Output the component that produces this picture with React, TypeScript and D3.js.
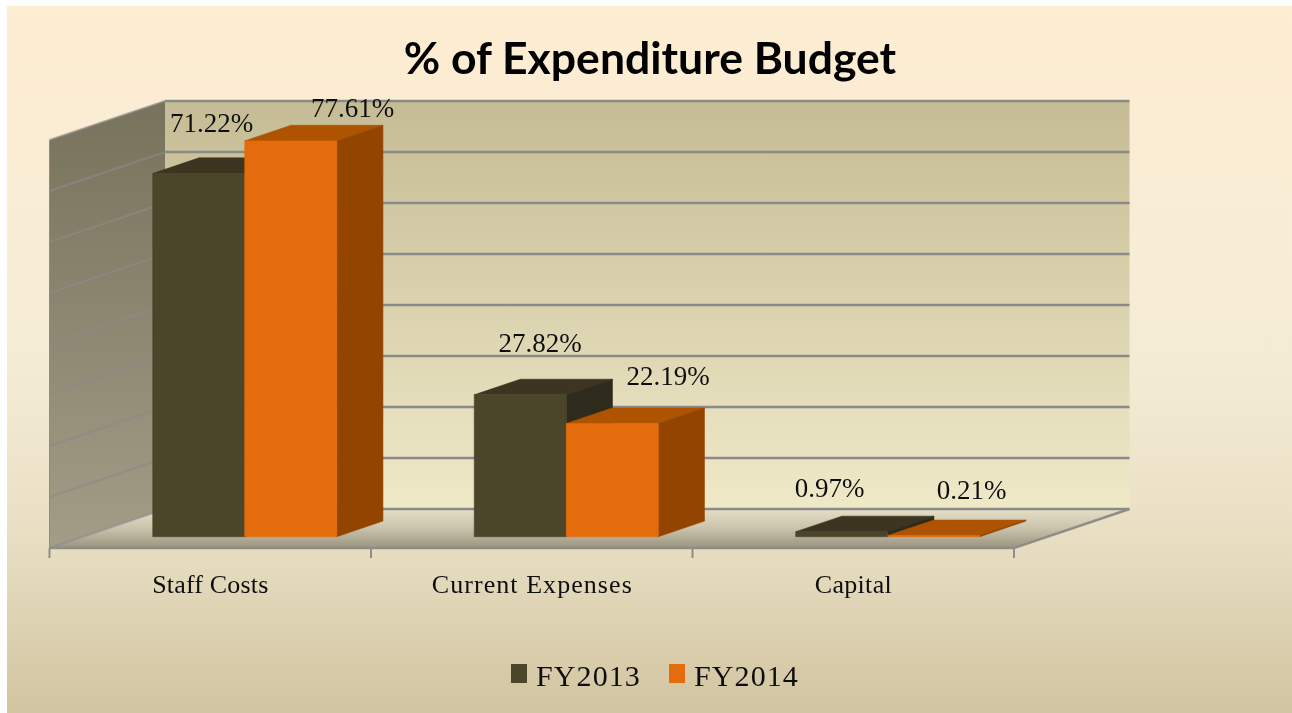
import React from "react";
import * as d3 from "d3";

const categories = ["Staff Costs", "Current Expenses", "Capital"];
const seriesNames = ["FY2013", "FY2014"];
const fy2013 = [71.22, 27.82, 0.97];
const fy2014 = [77.61, 22.19, 0.21];
const yTicks = [0, 10, 20, 30, 40, 50, 60, 70, 80];

// Hand-placed data label offsets from the centre and top of each bar front, as in the source chart.
const labelShift2013 = [[13, -41], [20, -43], [-12, -35]];
const labelShift2014 = [[62, -24], [56, -39], [38, -37]];
const categoryLabelWidths = [116, 200, 77];

const W = 1292, H = 713;
const front = { left: 49.5, right: 1014, base: 548 };
const depth = { dx: 115.5, dy: -39 };
const x = d3.scaleBand<string>().domain(categories).range([front.left, front.right]);
const y = d3.scaleLinear().domain([0, 80]).range([0, -408]);
const barD0 = 0.29, barD1 = 0.69;

const p = (px: number, py: number, d: number) => [px + depth.dx * d, py + depth.dy * d] as [number, number];
const poly = (pts: [number, number][]) => d3.line()(pts)! + "Z";

const colors = [
  { front: "#4b442c", top: "#3c3520", side: "#2f2c1b" },
  { front: "#e56c0a", top: "#ae5206", side: "#934405" },
];

function Bar({ left, width, value, c }: { left: number; width: number; value: number; c: typeof colors[0] }) {
  const b = front.base;
  const h = y(value);
  const a0 = p(left, b, barD0), a1 = p(left + width, b, barD0);
  const t0 = p(left, b + h, barD0), t1 = p(left + width, b + h, barD0);
  const t2 = p(left + width, b + h, barD1), t3 = p(left, b + h, barD1);
  const s2 = p(left + width, b, barD1);
  return (
    <g>
      <path d={poly([t0, t1, t2, t3])} fill={c.top} stroke={c.top} strokeWidth={0.6} />
      <path d={poly([a1, t1, t2, s2])} fill={c.side} stroke={c.side} strokeWidth={0.6} />
      <path d={poly([a0, a1, t1, t0])} fill={c.front} stroke={c.front} strokeWidth={0.6} />
    </g>
  );
}

export default function App() {
  const b = front.base;
  const bw = 92;
  const serif = "'Liberation Serif', 'DejaVu Serif', serif";
  const barLeft = (cat: string, s: number) => x(cat)! + (x.bandwidth() - 2 * bw) / 2 + 1 + s * bw;
  const backL = p(front.left, b, 1), backR = p(front.right, b, 1);
  const frontOf = (px: number, v: number) => p(px, b + y(v), barD0);
  return (
    <svg width={W} height={H} style={{ position: "absolute", left: 0, top: 0, display: "block" }} fontFamily={serif}>
      <defs>
        <linearGradient id="bg" x1="0" y1="0" x2="0" y2="1">
          <stop offset="0" stopColor="#fdedd2" />
          <stop offset="0.5" stopColor="#f5ecd6" />
          <stop offset="0.75" stopColor="#e8dfc3" />
          <stop offset="1" stopColor="#d1c4a0" />
        </linearGradient>
        <linearGradient id="wall" x1="0" y1="0" x2="0" y2="1">
          <stop offset="0" stopColor="#c5bc95" />
          <stop offset="1" stopColor="#f0e9c8" />
        </linearGradient>
        <linearGradient id="side" x1="0" y1="0" x2="0" y2="1">
          <stop offset="0" stopColor="#77725b" />
          <stop offset="1" stopColor="#a39d88" />
        </linearGradient>
        <linearGradient id="floor" x1="0" y1="0" x2="0" y2="1">
          <stop offset="0" stopColor="#e5dfc8" />
          <stop offset="0.5" stopColor="#c9c3ab" />
          <stop offset="1" stopColor="#9a9480" />
        </linearGradient>
        <filter id="soft" x="-2%" y="-2%" width="104%" height="104%">
          <feGaussianBlur stdDeviation="0.55" />
        </filter>
      </defs>
      <rect x={7} y={6} width={W - 7} height={H - 6} fill="url(#bg)" />
      <g filter="url(#soft)">
        <text x={650} y={74} textAnchor="middle" fontFamily="Lato, 'Open Sans', sans-serif" fontWeight={700} fontSize={44.5} fill="#000">
          % of Expenditure Budget
        </text>

        <path d={poly([backL, backR, [backR[0], backR[1] + y(80)], [backL[0], backL[1] + y(80)]])} fill="url(#wall)" />
        <path d={poly([[front.left, b], backL, [backL[0], backL[1] + y(80)], [front.left, b + y(80)]])} fill="url(#side)" />
        <path d={poly([[front.left, b], [front.right, b], backR, backL])} fill="url(#floor)" />

        {yTicks.map((t) => {
          const l0 = [front.left, b + y(t)] as [number, number];
          const l1 = p(front.left, b + y(t), 1);
          const l2 = p(front.right, b + y(t), 1);
          return (
            <g key={t} fill="none" stroke="#8b8a88">
              <path d={d3.line()([l0, l1])!} strokeWidth={2} strokeOpacity={0.65} />
              <path d={d3.line()([l1, l2])!} strokeWidth={2.6} />
            </g>
          );
        })}
        <path d={d3.line()([[front.left, b], [front.right, b], backR])!} fill="none" stroke="#8f8d88" strokeWidth={2.4} />
        <path d={d3.line()([[front.left, b], [front.left, b + y(80)]])!} fill="none" stroke="#8f8d88" strokeWidth={1} />
        {[...categories.map((c) => x(c)!), front.right].map((tx) => (
          <line key={tx} x1={tx} x2={tx} y1={b} y2={b + 10} stroke="#8f8d88" strokeWidth={2} />
        ))}

        {categories.map((cat, i) => (
          <g key={cat}>
            <Bar left={barLeft(cat, 0)} width={bw} value={fy2013[i]} c={colors[0]} />
            <Bar left={barLeft(cat, 1)} width={bw} value={fy2014[i]} c={colors[1]} />
          </g>
        ))}

        {categories.map((cat, i) => (
          <text
            key={cat}
            x={x(cat)! + x.bandwidth() / 2}
            y={593}
            textAnchor="middle"
            fontSize={26}
            fill="#111"
            textLength={categoryLabelWidths[i]}
            lengthAdjust="spacing"
          >
            {cat}
          </text>
        ))}

        {categories.map((cat, i) =>
          [fy2013[i], fy2014[i]].map((v, s) => {
            const shift = (s === 0 ? labelShift2013 : labelShift2014)[i];
            const anchor = frontOf(barLeft(cat, s) + bw / 2, v);
            return (
              <text key={cat + s} x={anchor[0] + shift[0]} y={anchor[1] + shift[1]} textAnchor="middle" fontSize={27} fill="#111">
                {v.toFixed(2)}%
              </text>
            );
          })
        )}

        {seriesNames.map((n, i) => {
          const lx = 511 + i * 158;
          return (
            <g key={n}>
              <rect x={lx} y={664} width={16} height={19} fill={colors[i].front} />
              <text x={lx + 25} y={686} fontSize={30} fill="#111" letterSpacing={1.1}>
                {n}
              </text>
            </g>
          );
        })}
      </g>
    </svg>
  );
}
